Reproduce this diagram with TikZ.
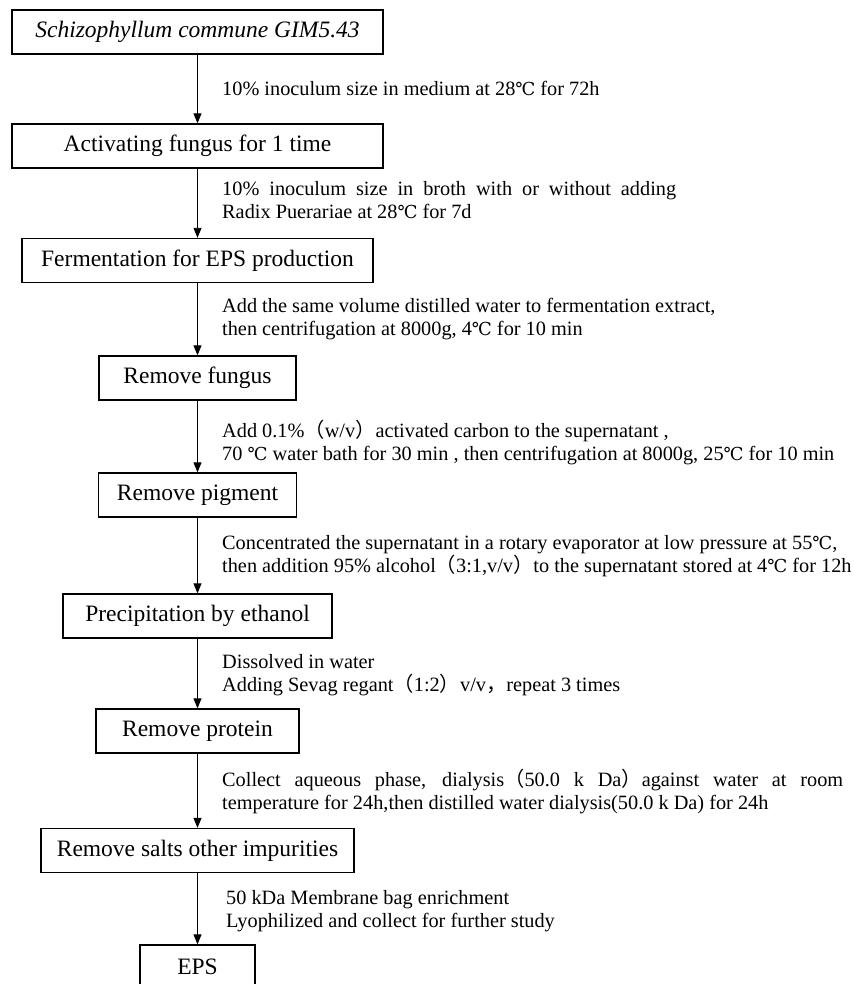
\documentclass[tikz,border=0pt]{standalone}
\usepackage{fontspec}
\setmainfont{Liberation Serif}
\newfontfamily\cjk{Noto Sans CJK SC}
\newfontfamily\unitfont[Scale=0.88]{DejaVu Serif}
\usetikzlibrary{arrows.meta}

\newcommand{\fwl}{{\cjk （}}
\newcommand{\fwr}{{\cjk ）}}
\newcommand{\degc}{{\unitfont ℃}}

\begin{document}
\begin{tikzpicture}[x=1pt, y=-1pt,
    stage/.style={draw, line width=1.3pt, inner sep=0pt, minimum height=44pt,
                  font=\fontsize{23.5}{26}\selectfont},
    note/.style={anchor=west, inner sep=0pt, align=left,
                 font=\fontsize{20.3}{23}\selectfont},
    flow/.style={line width=0.9pt, -{Triangle[length=10pt, width=8pt]}}]
		\clip (0,0) rectangle (853,984);

		% process boxes
		\node[stage, minimum width=371pt] (strain)   at (197.5,32)  {\textit{Schizophyllum commune GIM5.43}};
		\node[stage, minimum width=371pt] (activate) at (197.5,146) {Activating fungus for 1 time};
		\node[stage, minimum width=351pt] (ferment)  at (197.5,260.5) {Fermentation for EPS production};
		\node[stage, minimum width=197pt] (fungus)   at (197.5,378) {Remove fungus};
		\node[stage, minimum width=198pt] (pigment)  at (197.5,495) {Remove pigment};
		\node[stage, minimum width=269pt] (ethanol)  at (197.5,616) {Precipitation by ethanol};
		\node[stage, minimum width=203pt] (protein)  at (197.5,731) {Remove protein};
		\node[stage, minimum width=313pt] (salts)    at (197.5,850.5) {Remove salts other impurities};
		\node[stage, minimum width=115pt] (eps)      at (197.5,967) {EPS};

		\draw[flow] (strain) -- (activate);
		\draw[flow] (activate) -- (ferment);
		\draw[flow] (ferment) -- (fungus);
		\draw[flow] (fungus) -- (pigment);
		\draw[flow] (pigment) -- (ethanol);
		\draw[flow] (ethanol) -- (protein);
		\draw[flow] (protein) -- (salts);
		\draw[flow] (salts) -- (eps);

		% conditions beside the arrows
		\node[note] (c1) at (222,88) {10\% inoculum size in medium at 28\degc{} for 72h};
		\node[note] (c2) at (222,200) {\makebox[454pt][s]{10\% inoculum size in broth with or without adding}\\Radix Puerariae at 28\degc{} for 7d};
		\node[note] (c3) at (222,319) {Add the same volume distilled water to fermentation extract,\\then centrifugation at 8000g, 4\degc{} for 10 min};
		\node[note] (c4) at (222,442) {Add 0.1\%\fwl w/v\fwr activated carbon to the supernatant ,\\70 \degc{} water bath for 30 min , then centrifugation at 8000g, 25\degc{} for 10 min};
		\node[note] (c5) at (222,556) {Concentrated the supernatant in a rotary evaporator at low pressure at 55\degc,\\then addition 95\% alcohol\fwl 3:1,v/v\fwr to the supernatant stored at 4\degc{} for 12h};
		\node[note] (c6) at (222,675) {Dissolved in water\\Adding Sevag regant\fwl 1:2\fwr v/v{\cjk ，}repeat 3 times};
		\node[note] (c7) at (222,791) {\makebox[621pt][s]{Collect aqueous phase, dialysis\fwl 50.0 k Da\fwr against water at room}\\temperature for 24h,then distilled water dialysis(50.0 k Da) for 24h};
		\node[note] (c8) at (226,911) {50 kDa Membrane bag enrichment\\Lyophilized and collect for further study};

\end{tikzpicture}
\end{document}
